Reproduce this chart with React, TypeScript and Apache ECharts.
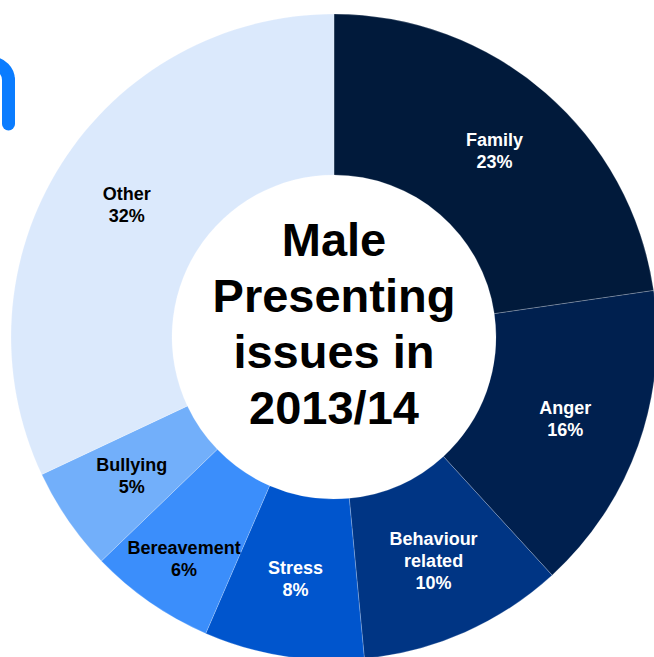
import React, { useEffect, useRef } from "react";
import * as echarts from "echarts";

const categories = ["Family", "Anger", "Behaviour related", "Stress", "Bereavement", "Bullying", "Other"];
const values = [22.7, 15.5, 10.3, 8.0, 6.3, 5.2, 32.0];
const colors = ["#011a3b", "#00204f", "#003584", "#0055cd", "#3b8efb", "#72affa", "#dbe9fc"];
const labelColors = ["#ffffff", "#ffffff", "#ffffff", "#ffffff", "#000000", "#000000", "#000000"];
const centerTitle = "Male\nPresenting\nissues in\n2013/14";

export default function App() {
  const ref = useRef<HTMLDivElement>(null);
  useEffect(() => {
    if (!ref.current) return;
    const chart = echarts.init(ref.current, null, { renderer: "svg" });
    chart.setOption({
      animation: false,
      backgroundColor: "#ffffff",
      series: [
        {
          type: "pie",
          center: [334, 337],
          radius: [162, 323],
          startAngle: 90,
          clockwise: true,
          avoidLabelOverlap: false,
          labelLine: { show: false },
          itemStyle: { borderWidth: 0.6, borderColor: "rgba(255,255,255,0.35)" },
          emphasis: { disabled: true },
          data: categories.map((c, i) => ({
            name: c,
            value: values[i],
            itemStyle: { color: colors[i] },
            label: c === "Bereavement"
              ? { color: labelColors[i], offset: [-10, 20] }
              : { color: labelColors[i] },
          })),
          label: {
            show: true,
            position: "inside",
            fontFamily: "Liberation Sans, Arial, sans-serif",
            fontWeight: "bold",
            fontSize: 18,
            lineHeight: 22,
            align: "center",
            formatter: (p: any) => p.name.split(" ").join("\n") + "\n" + Math.round(p.value) + "%",
          },
        },
      ],
      graphic: [
        {
          type: "text",
          x: 334,
          y: 323,
          style: {
            text: centerTitle,
            fontFamily: "Liberation Sans, Arial, sans-serif",
            fontWeight: "bold",
            fontSize: 47,
            lineHeight: 56,
            fill: "#000000",
            textAlign: "center",
            textVerticalAlign: "middle",
          },
        },
        {
          type: "arc",
          shape: { cx: -8, cy: 80, r: 16.5, startAngle: -Math.PI, endAngle: 0 },
          style: { stroke: "#0a7cff", lineWidth: 13, fill: "none" },
        },
        {
          type: "line",
          shape: { x1: 8.5, y1: 80, x2: 8.5, y2: 124 },
          style: { stroke: "#0a7cff", lineWidth: 13, lineCap: "round" },
        },
      ],
    });
    return () => chart.dispose();
  }, []);
  return (
    <div
      ref={ref}
      style={{ position: "fixed", left: 0, top: 0, width: 654, height: 657 }}
    />
  );
}
